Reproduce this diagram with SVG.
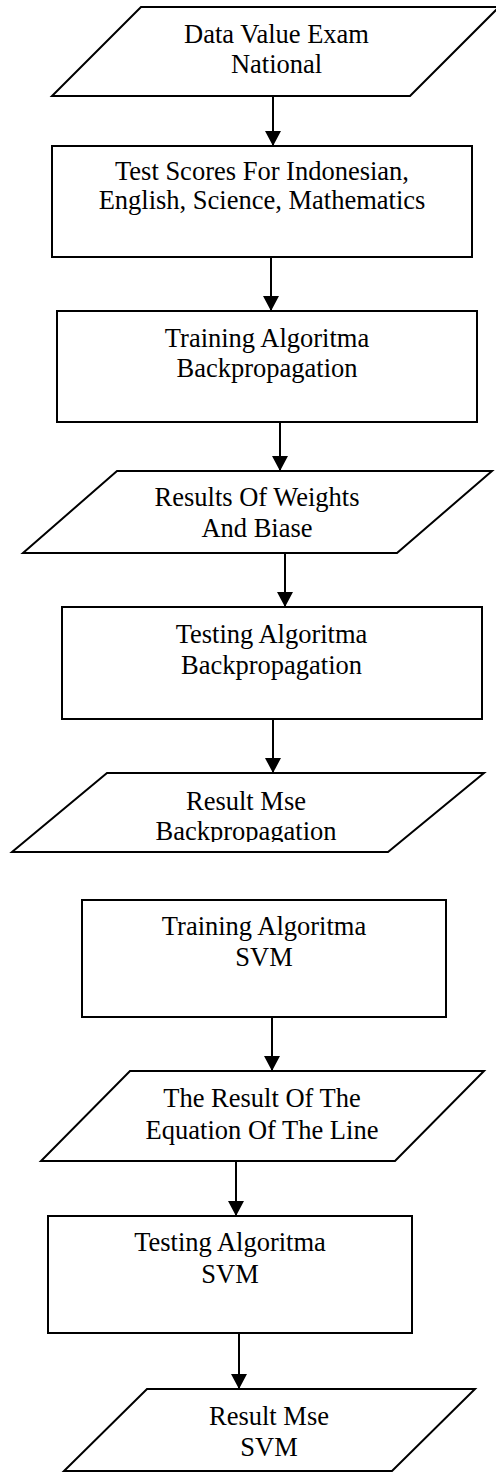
<svg xmlns="http://www.w3.org/2000/svg" width="496" height="1472" viewBox="0 0 496 1472">
<style>
.shape{fill:#fff;stroke:#000;stroke-width:2;stroke-linejoin:miter}
.conn{stroke:#000;stroke-width:2;fill:none}
.lbl{font-family:"Liberation Serif","Times New Roman",serif;font-size:26.5px;fill:#000;text-anchor:middle}
</style>
<defs>
<marker id="ah" markerUnits="userSpaceOnUse" viewBox="0 0 15 16" refX="15" refY="8" markerWidth="15" markerHeight="16" orient="auto">
<path d="M0,0 L15,8 L0,16 z" fill="#000"/>
</marker>
<clipPath id="clip3"><rect x="0" y="773" width="496" height="69"/></clipPath>
</defs>
<rect width="496" height="1472" fill="#fff"/>
<g id="connectors">
<line class="conn" x1="273" y1="96" x2="273" y2="146" marker-end="url(#ah)"/>
<line class="conn" x1="271" y1="257" x2="271" y2="311" marker-end="url(#ah)"/>
<line class="conn" x1="280" y1="422" x2="280" y2="471" marker-end="url(#ah)"/>
<line class="conn" x1="285" y1="553" x2="285" y2="607" marker-end="url(#ah)"/>
<line class="conn" x1="273" y1="719" x2="273" y2="773" marker-end="url(#ah)"/>
<line class="conn" x1="272" y1="1017" x2="272" y2="1071" marker-end="url(#ah)"/>
<line class="conn" x1="236" y1="1161" x2="236" y2="1216" marker-end="url(#ah)"/>
<line class="conn" x1="239" y1="1333" x2="239" y2="1389" marker-end="url(#ah)"/>
</g>
<g id="n1">
<polygon class="shape" points="141,7 499,7 410,96 52,96"/>
<text class="lbl" x="276.5" y="43">Data Value Exam</text>
<text class="lbl" x="276.5" y="73">National</text>
</g>
<g id="n2">
<rect class="shape" x="52" y="146" width="420" height="111"/>
<text class="lbl" x="262" y="180">Test Scores For Indonesian,</text>
<text class="lbl" x="262" y="209">English, Science, Mathematics</text>
</g>
<g id="n3">
<rect class="shape" x="57" y="311" width="420" height="111"/>
<text class="lbl" x="267" y="347">Training Algoritma</text>
<text class="lbl" x="267" y="377">Backpropagation</text>
</g>
<g id="n4">
<polygon class="shape" points="117,471 492,471 397,553 23,553"/>
<text class="lbl" x="257" y="506">Results Of Weights</text>
<text class="lbl" x="257" y="537">And Biase</text>
</g>
<g id="n5">
<rect class="shape" x="62" y="607" width="420" height="112"/>
<text class="lbl" x="271.5" y="643">Testing Algoritma</text>
<text class="lbl" x="271.5" y="674">Backpropagation</text>
</g>
<g id="n6">
<polygon class="shape" points="107,773 484,773 388,852 12,852"/>
<g clip-path="url(#clip3)">
<text class="lbl" x="246" y="810">Result Mse</text>
<text class="lbl" x="246" y="840">Backpropagation</text>
</g>
</g>
<g id="n7">
<rect class="shape" x="82" y="900" width="364" height="117"/>
<text class="lbl" x="264" y="935">Training Algoritma</text>
<text class="lbl" x="264" y="966">SVM</text>
</g>
<g id="n8">
<polygon class="shape" points="130,1071 484,1071 395,1161 41,1161"/>
<text class="lbl" x="262" y="1107">The Result Of The</text>
<text class="lbl" x="262" y="1139">Equation Of The Line</text>
</g>
<g id="n9">
<rect class="shape" x="48" y="1216" width="364" height="117"/>
<text class="lbl" x="230" y="1251">Testing Algoritma</text>
<text class="lbl" x="230" y="1283">SVM</text>
</g>
<g id="n10">
<polygon class="shape" points="147,1389 475,1389 392,1471 64,1471"/>
<text class="lbl" x="269" y="1425">Result Mse</text>
<text class="lbl" x="269" y="1456">SVM</text>
</g>
</svg>
